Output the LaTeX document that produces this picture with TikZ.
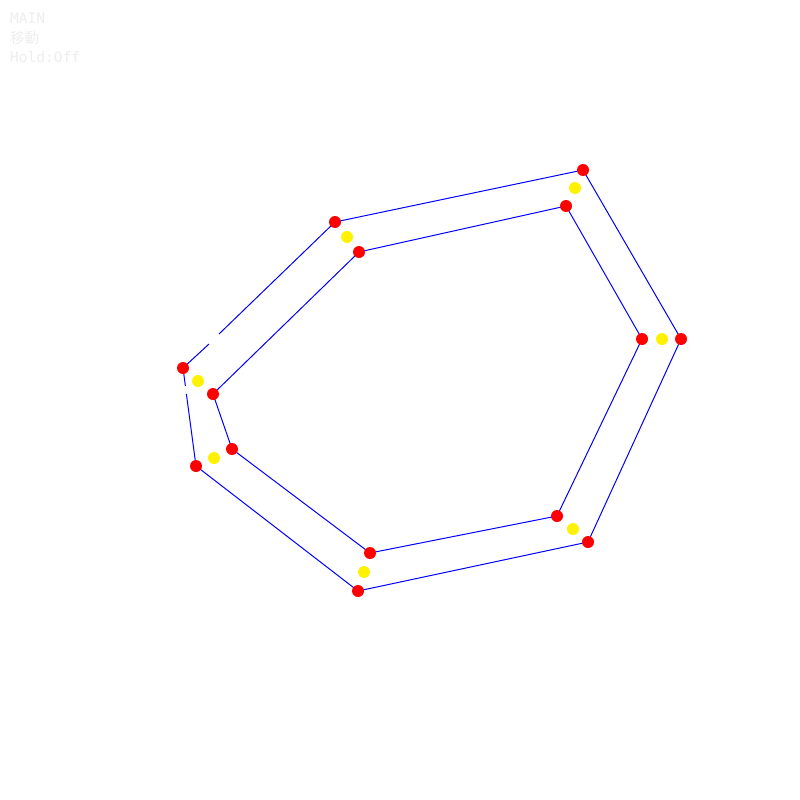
\documentclass[tikz,border=0pt]{standalone}
\usepackage{fontspec}
\setmonofont{DejaVu Sans Mono}
\newfontfamily\cjk{Noto Sans CJK JP}
\definecolor{faint}{RGB}{238,238,238}
\begin{document}
\begin{tikzpicture}[x=1pt,y=-1pt,
  edge/.style={draw=blue,line width=1pt},
  rdot/.style={circle,fill=red,inner sep=0pt,minimum size=12pt},
  ydot/.style={circle,fill=yellow,inner sep=0pt,minimum size=12pt},
  hud/.style={anchor=base west,inner sep=0pt,text=faint,font=\ttfamily\fontsize{14.5}{16}\selectfont}]
\useasboundingbox[fill=white] (0,0) rectangle (800,800);
% outer points
\coordinate (A1) at (583,170);
\coordinate (A2) at (681,339);
\coordinate (A3) at (588,542);
\coordinate (A4) at (358,591);
\coordinate (A5) at (196,466);
\coordinate (A6) at (183,368);
\coordinate (A7) at (335,222);
% inner points
\coordinate (B1) at (566,206);
\coordinate (B2) at (642,339);
\coordinate (B3) at (557,516);
\coordinate (B4) at (370,553);
\coordinate (B5) at (232,449);
\coordinate (B6) at (213,394);
\coordinate (B7) at (359,252);
% gap coordinates
\coordinate (g1) at (209,344);
\coordinate (g2) at (219,334);
\coordinate (g3) at (185.4,386);
\coordinate (g4) at (186.4,394);
\path[edge] (A7) -- (A1) -- (A2) -- (A3) -- (A4) -- (A5) -- (g4);
\path[edge] (g3) -- (A6) -- (g1);
\path[edge] (g2) -- (A7);
\path[edge] (B1) -- (B2) -- (B3) -- (B4) -- (B5) -- (B6) -- (B7) -- cycle;
\foreach \p in {A1,A2,A3,A4,A5,A6,A7,B1,B2,B3,B4,B5,B6,B7}
  \node[rdot] (n\p) at (\p) {};
\node[ydot] (y1) at (575,188) {};
\node[ydot] (y2) at (662,339) {};
\node[ydot] (y3) at (573,529) {};
\node[ydot] (y4) at (364,572) {};
\node[ydot] (y5) at (214,458) {};
\node[ydot] (y6) at (198,381) {};
\node[ydot] (y7) at (347,237) {};
\node[hud] (t1) at (10,24) {MAIN};
\node[hud] (t2) at (10,44) {\cjk 移動};
\node[hud] (t3) at (10,63) {Hold:Off};
\end{tikzpicture}
\end{document}
